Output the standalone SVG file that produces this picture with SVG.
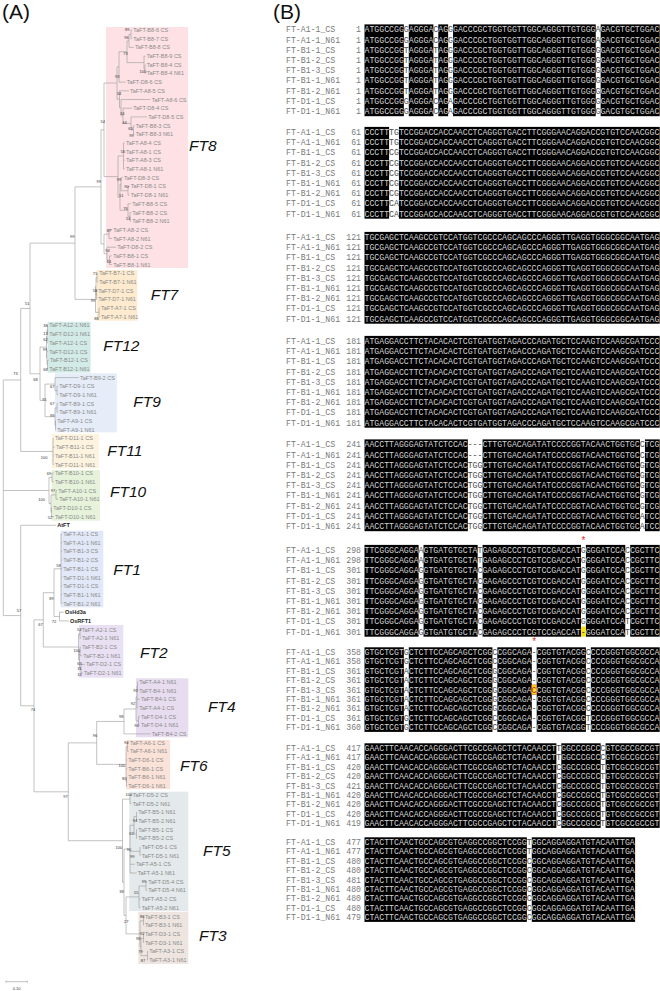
<svg xmlns="http://www.w3.org/2000/svg" width="660" height="991" viewBox="0 0 660 991">
<style>
.pl{font-family:"Liberation Sans",Arial,sans-serif;font-size:21px;fill:#111}
.lf{font-family:"Liberation Sans",Arial,sans-serif;font-size:5.5px;fill:#8a8a8a}
.ex{font-family:"Liberation Sans",Arial,sans-serif;font-size:5.5px;fill:#1a1a1a;font-weight:bold}
.bs{font-family:"Liberation Sans",Arial,sans-serif;font-size:4px;fill:#333}
.cl{font-family:"Liberation Sans",Arial,sans-serif;font-size:15.5px;font-style:italic;fill:#111}
.tr{fill:none;stroke:#9a9a9a;stroke-width:0.6}
.nm{font-family:"Liberation Mono","Courier New",monospace;font-size:8.2px;fill:#7a7a7a}
.q{font-family:"Liberation Mono","Courier New",monospace;font-size:8.2px;fill:#d4d4d4}
.w{fill:#4a4a4a}
.r{fill:#e02020}
.bk{fill:#000}
.yl{fill:#f5e21a}
.st{font-family:"Liberation Sans",Arial,sans-serif;font-size:10px;fill:#e8302c;text-anchor:middle}
</style>
<text class="pl" x="2" y="18.5">(A)</text>
<text class="pl" x="273" y="18.5">(B)</text>

<g id="boxes">
<rect x="106" y="27" width="82" height="241" fill="#fde1e4"/>
<rect x="96.7" y="270" width="40.6" height="50.7" fill="#fdeacf"/>
<rect x="47.7" y="321.7" width="43" height="51" fill="#d3ebe6"/>
<rect x="55" y="373.3" width="61.7" height="59" fill="#e6ecf8"/>
<rect x="51.7" y="434" width="47.3" height="34.3" fill="#fdf3df"/>
<rect x="51.7" y="470" width="48.3" height="50.7" fill="#e6f2da"/>
<rect x="60.7" y="530.7" width="42.6" height="76.6" fill="#e2e8f7"/>
<rect x="79" y="625" width="44.3" height="52.7" fill="#e9e1f3"/>
<rect x="136" y="678.3" width="52.3" height="59" fill="#e8ddf0"/>
<rect x="126" y="740" width="44" height="49.3" fill="#fbe2d8"/>
<rect x="129.3" y="791.7" width="59" height="119.3" fill="#e4e9eb"/>
<rect x="138.3" y="911.7" width="50" height="52.3" fill="#eee5e1"/>
</g>

<g id="connectors" class="tr">
<path d="M132.1 30H131V38.7H132.1M131 34.35H129V47.4H133.8M145.5 64.8H145V73.4H145.5M145.5 56.1H144V69.1H145M129 40.9H127V62.6H144M127 51.75H119V82.1H125.5M134.5 125.6H133.5V134.3H134.5M147.1 116.9H131V129.95H133.5M132.1 108.2H123V123.4H131M150.5 99.5H121V115.8H123M128.8 90.8H119.5V107.65H121M119 66.9H117V99.2H119.5M123.5 143V169M123.5 143H124.8M123.5 151.6H124.8M123.5 160.3H124.8M123.5 169H124.8M129.5 186.4H128V195.1H129.5M122.8 177.7H121V190.75H128M131.1 212.5H130V221.2H131.1M131.1 203.8H128V216.85H130M121 184.2H120V210.3H128M123.5 156H118V197.25H120M117 83.05H104V176.6H118M112.1 229.8H109V238.5H112.1M112.1 255.9H109.5V264.6H112.1M116.1 247.2H107V260.25H109.5M109 234.15H104V253.7H107M104 129.8H101V243.9H104"/>
<path d="M98.1 273.3H97V282H98.1M97.1 290.7H96.5V299.4H97.1M99.8 308.1H99V316.7H99.8M97 277.65H96V295.05H96.5M96 286.35H95.5V312.4H99M101 186.85H75V299.4H95.5"/>
<path d="M48.1 325.4H47.5V334.1H48.1M47.5 329.75H47V342.8H48.1M48.8 360.2H47.5V368.9H48.1M48.1 351.5H47V364.55H47.5M47 336.3H46.5V358H47"/>
<path d="M58.1 386.3H57V394.9H58.1M78.8 377.6H55V390.6H57M58.1 403.6H57V412.3H58.1M56.1 421H55.5V429.7H56.1M57 407.95H55V425.35H55.5M55 384.1H45V416.65H55M46.5 347.15H40V400.4H45M75 243.1H30V373.8H40"/>
<path d="M53 438.4V464.5M53 438.4H53.8M53 447.1H54.8M53 455.8H53.8M53 464.5H53.8M30 308.45H20.7V451.45H53"/>
<path d="M53.8 473.1H52V481.8H53.8M57.1 490.5H56V499.2H58.1M52.1 507.9H51.5V516.6H53.8M56 494.85H51V512.25H51.5M52 477.45H49V503.55H51"/>
<path d="M61 534V603.6M61 534H62.1M61 542.7H62.1M61 551.4H62.1M61 560.1H62.1M61 568.8H62.1M61 577.5H62.1M61 586.2H62.1M61 594.9H62.1M61 603.6H62.1M63.8 612.2H59.5V620.9H68.8M61 568.8H54V616.55H59.5"/>
<path d="M80.5 629.6H80V638.3H80.8M80.8 647H80V655.7H82.1M84.8 664.4H81V673.1H82.8M80 651.35H79.5V668.75H81M80 633.95H78.5V660.05H79.5M54 592.7H43.3V647H78.5"/>
<path d="M138.1 681.8H137.5V690.5H138.1M137.5 686.15H137V707.9H138.1M137 699.2H139.8M139.8 716.6H138.5V725.3H139.8M137 697H136V720.95H138.5M136 708.98H124V733.9H150.5"/>
<path d="M128.8 742.6H127.5V751.3H128.8M127.1 777.4H126.5V786.1H127.1M127.5 746.95H126V781.75H126.5M126 760H127.1M126 768.7H127.1M124 721.45H96.7V764.35H126"/>
<path d="M131.5 794.8H130V803.5H131.5M137.1 812.2H136.5V820.9H137.1M137.1 829.6H136.5V838.3H137.1M136.5 816.55H134V833.95H136.5M140.5 847H140V855.6H140.5M134 825.25H130V873H136.5M130 851.3H140M130 864.3H134.8M147.1 881.7H146V890.4H147.1M146 886.05H139V907.8H140.5M139 899.1H140.5"/>
<path d="M143.8 916.5H143.5V925.2H143.8M143.8 933.9H143.5V942.6H143.8M148.1 951.3H147.5V960H148.1M143.5 938.25H141V955.65H147.5M143.5 920.85H140V946.95H141M139 896.9H126V933.9H140M130 849.1H124V915.4H126M130 799.15H122.5V882.25H124"/>
<path d="M96.7 742.9H68.3V840.7H122.5M43.3 619.85H34V791.8H68.3M56.1 525.3H20.7V705.83H34M20.7 379.95H3.3V615.57H20.7M3.3 490.5H49"/>
<path d="M6 981.7H27.3M6 980.6V982.8M27.3 980.6V982.8"/>
</g>

<g id="clade-FT8" class="lf">
<text x="133.3" y="32">TaFT-B8-6 CS</text><text x="133.3" y="40.7">TaFT-B8-7 CS</text><text x="135" y="49.4">TaFT-B8-8 CS</text><text x="146.7" y="58.1">TaFT-B8-9 CS</text><text x="146.7" y="66.8">TaFT-B8-4 CS</text><text x="146.7" y="75.4">TaFT-B8-4 N61</text><text x="126.7" y="84.1">TaFT-D8-6 CS</text><text x="130" y="92.8">TaFT-A8-5 CS</text><text x="151.7" y="101.5">TaFT-A8-6 CS</text><text x="133.3" y="110.2">TaFT-D8-4 CS</text><text x="148.3" y="118.9">TaFT-D8-5 CS</text><text x="135.7" y="127.6">TaFT-B8-3 CS</text><text x="135.7" y="136.3">TaFT-B8-3 N61</text><text x="126" y="145">TaFT-A8-4 CS</text><text x="126" y="153.6">TaFT-A8-1 CS</text><text x="126" y="162.3">TaFT-A8-3 CS</text><text x="126" y="171">TaFT-A8-1 N61</text><text x="124" y="179.7">TaFT-D8-3 CS</text><text x="130.7" y="188.4">TaFT-D8-1 CS</text><text x="130.7" y="197.1">TaFT-D8-1 N61</text><text x="132.3" y="205.8">TaFT-B8-5 CS</text><text x="132.3" y="214.5">TaFT-B8-2 CS</text><text x="132.3" y="223.2">TaFT-B8-2 N61</text><text x="113.3" y="231.8">TaFT-A8-2 CS</text><text x="113.3" y="240.5">TaFT-A8-2 N61</text><text x="117.3" y="249.2">TaFT-D8-2 CS</text><text x="113.3" y="257.9">TaFT-B8-1 CS</text><text x="113.3" y="266.6">TaFT-B8-1 N61</text>
<text class="cl" x="189" y="150.6">FT8</text>
</g>
<g id="clade-FT7" class="lf">
<text x="99.3" y="275.3">TaFT-B7-1 CS</text><text x="99.3" y="284">TaFT-B7-1 N61</text><text x="98.3" y="292.7">TaFT-D7-1 CS</text><text x="98.3" y="301.4">TaFT-D7-1 N61</text><text x="101" y="310.1">TaFT-A7-1 CS</text><text x="101" y="318.7">TaFT-A7-1 N61</text>
<text class="cl" x="150.7" y="299.6">FT7</text>
</g>
<g id="clade-FT12" class="lf">
<text x="49.3" y="327.4">TaFT-A12-1 N61</text><text x="49.3" y="336.1">TaFT-D12-1 N61</text><text x="49.3" y="344.8">TaFT-A12-1 CS</text><text x="49.3" y="353.5">TaFT-D12-1 CS</text><text x="50" y="362.2">TaFT-B12-1 CS</text><text x="49.3" y="370.9">TaFT-B12-1 N61</text>
<text class="cl" x="103.3" y="350.6">FT12</text>
</g>
<g id="clade-FT9" class="lf">
<text x="80" y="379.6">TaFT-B9-2 CS</text><text x="59.3" y="388.3">TaFT-D9-1 CS</text><text x="59.3" y="396.9">TaFT-D9-1 N61</text><text x="59.3" y="405.6">TaFT-B9-1 CS</text><text x="59.3" y="414.3">TaFT-B9-1 N61</text><text x="57.3" y="423">TaFT-A9-1 CS</text><text x="57.3" y="431.7">TaFT-A9-1 N61</text>
<text class="cl" x="133.3" y="407.2">FT9</text>
</g>
<g id="clade-FT11" class="lf">
<text x="55" y="440.4">TaFT-D11-1 CS</text><text x="56" y="449.1">TaFT-B11-1 CS</text><text x="55" y="457.8">TaFT-B11-1 N61</text><text x="55" y="466.5">TaFT-D11-1 N61</text>
<text class="cl" x="107.3" y="455.6">FT11</text>
</g>
<g id="clade-FT10" class="lf">
<text x="55" y="475.1">TaFT-B10-1 CS</text><text x="55" y="483.8">TaFT-B10-1 N61</text><text x="58.3" y="492.5">TaFT-A10-1 CS</text><text x="59.3" y="501.2">TaFT-A10-1 N61</text><text x="53.3" y="509.9">TaFT-D10-1 CS</text><text x="55" y="518.6">TaFT-D10-1 N61</text>
<text class="cl" x="110" y="496.8">FT10</text>
</g>
<g id="leaf-AtFT"><text class="ex" x="57.3" y="527.3">AtFT</text></g>
<g id="clade-FT1" class="lf">
<text x="63.3" y="536">TaFT-A1-1 CS</text><text x="63.3" y="544.7">TaFT-A1-1 N61</text><text x="63.3" y="553.4">TaFT-B1-3 CS</text><text x="63.3" y="562.1">TaFT-B1-2 CS</text><text x="63.3" y="570.8">TaFT-B1-1 CS</text><text x="63.3" y="579.5">TaFT-D1-1 N61</text><text x="63.3" y="588.2">TaFT-D1-1 CS</text><text x="63.3" y="596.9">TaFT-B1-1 N61</text><text x="63.3" y="605.6">TaFT-B1-2 N61</text>
<text class="cl" x="113.3" y="574.9">FT1</text>
</g>
<g id="leaf-OsHd3a"><text class="ex" x="65" y="614.2">OsHd3a</text></g>
<g id="leaf-OsRFT1"><text class="ex" x="70" y="622.9">OsRFT1</text></g>
<g id="clade-FT2" class="lf">
<text x="81.7" y="631.6">TaFT-A2-1 CS</text><text x="82" y="640.3">TaFT-A2-1 N61</text><text x="82" y="649">TaFT-B2-1 CS</text><text x="83.3" y="657.7">TaFT-B2-1 N61</text><text x="86" y="666.4">TaFT-D2-1 CS</text><text x="84" y="675.1">TaFT-D2-1 N61</text>
<text class="cl" x="140" y="657.6">FT2</text>
</g>
<g id="clade-FT4" class="lf">
<text x="139.3" y="683.8">TaFT-A4-1 N61</text><text x="139.3" y="692.5">TaFT-B4-1 N61</text><text x="141" y="701.2">TaFT-B4-1 CS</text><text x="139.3" y="709.9">TaFT-A4-1 CS</text><text x="141" y="718.6">TaFT-D4-1 CS</text><text x="141" y="727.3">TaFT-D4-1 N61</text><text x="151.7" y="735.9">TaFT-B4-2 CS</text>
<text class="cl" x="208" y="712.2">FT4</text>
</g>
<g id="clade-FT6" class="lf">
<text x="130" y="744.6">TaFT-A6-1 CS</text><text x="130" y="753.3">TaFT-A6-1 N61</text><text x="128.3" y="762">TaFT-D6-1 CS</text><text x="128.3" y="770.7">TaFT-B6-1 CS</text><text x="128.3" y="779.4">TaFT-B6-1 N61</text><text x="128.3" y="788.1">TaFT-D6-1 N61</text>
<text class="cl" x="180" y="770.6">FT6</text>
</g>
<g id="clade-FT5" class="lf">
<text x="132.7" y="796.8">TaFT-D5-2 CS</text><text x="132.7" y="805.5">TaFT-D5-2 N61</text><text x="138.3" y="814.2">TaFT-B5-1 N61</text><text x="138.3" y="822.9">TaFT-B5-2 N61</text><text x="138.3" y="831.6">TaFT-B5-1 CS</text><text x="138.3" y="840.3">TaFT-B5-2 CS</text><text x="141.7" y="849">TaFT-D5-1 CS</text><text x="141.7" y="857.6">TaFT-D5-1 N61</text><text x="136" y="866.3">TaFT-A5-1 CS</text><text x="137.7" y="875">TaFT-A5-1 N61</text><text x="148.3" y="883.7">TaFT-D5-4 CS</text><text x="148.3" y="892.4">TaFT-D5-4 N61</text><text x="141.7" y="901.1">TaFT-A5-2 CS</text><text x="141.7" y="909.8">TaFT-A5-2 N61</text>
<text class="cl" x="203" y="855.6">FT5</text>
</g>
<g id="clade-FT3" class="lf">
<text x="145" y="918.5">TaFT-B3-1 CS</text><text x="145" y="927.2">TaFT-B3-1 N61</text><text x="145" y="935.9">TaFT-D3-1 CS</text><text x="145" y="944.6">TaFT-D3-1 N61</text><text x="149.3" y="953.3">TaFT-A3-1 CS</text><text x="149.3" y="962">TaFT-A3-1 N61</text>
<text class="cl" x="199" y="940.6">FT3</text>
</g>

<g id="bootstrap" class="bs">
<text x="125" y="30.7">89</text><text x="124.3" y="39.1">96</text><text x="123.3" y="55.4">73</text><text x="139.5" y="73.1">100</text><text x="115" y="78.1">93</text><text x="116.7" y="94.7">34</text><text x="120" y="115.4">34</text><text x="122.3" y="123.7">44</text><text x="128.3" y="130.4">63</text><text x="129.3" y="137.4">99</text><text x="120.7" y="153.4">55</text><text x="116.7" y="180.7">99</text><text x="124.3" y="187.7">90</text><text x="119" y="197.1">51</text><text x="123.3" y="209.7">76</text><text x="126" y="220.1">54</text><text x="106.7" y="231.7">87</text><text x="105.3" y="252.4">94</text><text x="106.7" y="263.1">64</text><text x="100.5" y="123.1">54</text><text x="96.5" y="183.1">99</text><text x="70" y="238.1">99</text><text x="25" y="304.7">51</text>
<text x="92.7" y="275.4">71</text><text x="92.7" y="292.4">58</text><text x="90.7" y="302.4">99</text><text x="94.3" y="319.7">88</text>
<text x="43.3" y="326.7">38</text><text x="43.3" y="334.7">13</text><text x="43.3" y="341.4">62</text><text x="42.7" y="351.4">99</text><text x="43.3" y="370.7">68</text><text x="33.3" y="380.7">68</text><text x="13.3" y="375.4">73</text>
<text x="50" y="388.1">67</text><text x="42.3" y="401.4">91</text><text x="50" y="405.4">67</text><text x="50" y="417.4">99</text>
<text x="40.7" y="458.7">100</text>
<text x="46.7" y="474.7">69</text><text x="50.7" y="492.4">97</text><text x="38.3" y="501.4">100</text><text x="47.7" y="518.7">52</text>
<text x="56.2" y="567.1">58</text><text x="49.3" y="600.4">89</text><text x="51.7" y="623.1">72</text><text x="38.3" y="626.4">67</text><text x="16.7" y="612.1">57</text>
<text x="77" y="631.4">53</text><text x="73.5" y="652.4">100</text><text x="77.3" y="665.4">63</text><text x="77.3" y="669.7">11</text><text x="77.3" y="675.7">16</text>
<text x="30.7" y="711.4">74</text>
<text x="133.3" y="692.1">95</text><text x="130.7" y="704.7">92</text><text x="119" y="718.1">98</text><text x="134.3" y="727.4">96</text><text x="92.7" y="737.4">96</text>
<text x="124" y="744.1">94</text><text x="118.5" y="767.1">100</text><text x="122" y="779.7">80</text>
<text x="63.3" y="798.1">97</text>
<text x="125.5" y="796.4">100</text><text x="132.7" y="822.1">94</text><text x="129.3" y="834.7">63</text><text x="126.7" y="851.4">90</text><text x="115.5" y="849.1">100</text><text x="130" y="858.1">99</text><text x="141.7" y="883.1">99</text><text x="119.3" y="893.1">38</text><text x="134" y="894.1">55</text>
<text x="140" y="918.1">86</text><text x="124" y="923.1">27</text><text x="140" y="934.7">92</text><text x="136" y="939.7">98</text><text x="138.3" y="953.1">79</text><text x="140.7" y="962.1">87</text>
<text x="16.6" y="989.5" text-anchor="middle">0.10</text>
</g>

<g id="block1" transform="translate(0,29.5)">
<rect class="bk" x="364.5" y="-5.1" width="39.36" height="91.8"/><rect class="bk" x="408.78" y="-5.1" width="24.6" height="91.8"/><rect class="bk" x="438.3" y="-5.1" width="9.84" height="91.8"/><rect class="bk" x="453.06" y="-5.1" width="142.68" height="91.8"/><rect class="bk" x="600.66" y="-5.1" width="59.04" height="91.8"/>
<text class="nm" x="286" y="2.9">FT-A1-1_CS</text><text class="nm" x="361" y="2.9" text-anchor="end">1</text><text class="q" x="364.5" y="2.9">ATGGCCGG<tspan class="w">G</tspan>AGGGA<tspan class="w">C</tspan>AG<tspan class="w">G</tspan>GACCCGCTGGTGGTTGGCAGGGTTGTGGG<tspan class="w">A</tspan>GACGTGCTGGAC</text>
<text class="nm" x="286" y="13.1">FT-A1-1_N61</text><text class="nm" x="361" y="13.1" text-anchor="end">1</text><text class="q" x="364.5" y="13.1">ATGGCCGG<tspan class="w">G</tspan>AGGGA<tspan class="w">C</tspan>AG<tspan class="w">G</tspan>GACCCGCTGGTGGTTGGCAGGGTTGTGGG<tspan class="w">A</tspan>GACGTGCTGGAC</text>
<text class="nm" x="286" y="23.3">FT-B1-1_CS</text><text class="nm" x="361" y="23.3" text-anchor="end">1</text><text class="q" x="364.5" y="23.3">ATGGCCGG<tspan class="w">T</tspan>AGGGA<tspan class="w">T</tspan>AG<tspan class="w">G</tspan>GACCCGCTGGTGGTTGGCAGGGTTGTGGG<tspan class="w">G</tspan>GACGTGCTGGAC</text>
<text class="nm" x="286" y="33.5">FT-B1-2_CS</text><text class="nm" x="361" y="33.5" text-anchor="end">1</text><text class="q" x="364.5" y="33.5">ATGGCCGG<tspan class="w">T</tspan>AGGGA<tspan class="w">T</tspan>AG<tspan class="w">G</tspan>GACCCGCTGGTGGTTGGCAGGGTTGTGGG<tspan class="w">G</tspan>GACGTGCTGGAC</text>
<text class="nm" x="286" y="43.7">FT-B1-3_CS</text><text class="nm" x="361" y="43.7" text-anchor="end">1</text><text class="q" x="364.5" y="43.7">ATGGCCGG<tspan class="w">T</tspan>AGGGA<tspan class="w">T</tspan>AG<tspan class="w">G</tspan>GACCCGCTGGTGGTTGGCAGGGTTGTGGG<tspan class="w">G</tspan>GACGTGCTGGAC</text>
<text class="nm" x="286" y="53.9">FT-B1-1_N61</text><text class="nm" x="361" y="53.9" text-anchor="end">1</text><text class="q" x="364.5" y="53.9">ATGGCCGG<tspan class="w">T</tspan>AGGGA<tspan class="w">T</tspan>AG<tspan class="w">G</tspan>GACCCGCTGGTGGTTGGCAGGGTTGTGGG<tspan class="w">G</tspan>GACGTGCTGGAC</text>
<text class="nm" x="286" y="64.1">FT-B1-2_N61</text><text class="nm" x="361" y="64.1" text-anchor="end">1</text><text class="q" x="364.5" y="64.1">ATGGCCGG<tspan class="w">T</tspan>AGGGA<tspan class="w">T</tspan>AG<tspan class="w">G</tspan>GACCCGCTGGTGGTTGGCAGGGTTGTGGG<tspan class="w">G</tspan>GACGTGCTGGAC</text>
<text class="nm" x="286" y="74.3">FT-D1-1_CS</text><text class="nm" x="361" y="74.3" text-anchor="end">1</text><text class="q" x="364.5" y="74.3">ATGGCCGG<tspan class="w">G</tspan>AGGGA<tspan class="w">C</tspan>AG<tspan class="w">A</tspan>GACCCGCTGGTGGTTGGCAGGGTTGTGGG<tspan class="w">G</tspan>GACGTGCTGGAC</text>
<text class="nm" x="286" y="84.5">FT-D1-1_N61</text><text class="nm" x="361" y="84.5" text-anchor="end">1</text><text class="q" x="364.5" y="84.5">ATGGCCGG<tspan class="w">G</tspan>AGGGA<tspan class="w">C</tspan>AG<tspan class="w">A</tspan>GACCCGCTGGTGGTTGGCAGGGTTGTGGG<tspan class="w">G</tspan>GACGTGCTGGAC</text>
</g>

<g id="block2" transform="translate(0,132)">
<rect class="bk" x="364.5" y="-5.1" width="24.6" height="91.8"/><rect class="bk" x="398.94" y="-5.1" width="260.76" height="91.8"/>
<text class="nm" x="286" y="2.9">FT-A1-1_CS</text><text class="nm" x="361" y="2.9" text-anchor="end">61</text><text class="q" x="364.5" y="2.9">CCCTT<tspan class="w">TG</tspan>TCCGGACCACCAACCTCAGGGTGACCTTCGGGAACAGGACCGTGTCCAACGGC</text>
<text class="nm" x="286" y="13.1">FT-A1-1_N61</text><text class="nm" x="361" y="13.1" text-anchor="end">61</text><text class="q" x="364.5" y="13.1">CCCTT<tspan class="w">TG</tspan>TCCGGACCACCAACCTCAGGGTGACCTTCGGGAACAGGACCGTGTCCAACGGC</text>
<text class="nm" x="286" y="23.3">FT-B1-1_CS</text><text class="nm" x="361" y="23.3" text-anchor="end">61</text><text class="q" x="364.5" y="23.3">CCCTT<tspan class="w">CG</tspan>TCCGGACCACCAACCTCAGGGTGACCTTCGGGAACAGGACCGTGTCCAACGGC</text>
<text class="nm" x="286" y="33.5">FT-B1-2_CS</text><text class="nm" x="361" y="33.5" text-anchor="end">61</text><text class="q" x="364.5" y="33.5">CCCTT<tspan class="w">CG</tspan>TCCGGACCACCAACCTCAGGGTGACCTTCGGGAACAGGACCGTGTCCAACGGC</text>
<text class="nm" x="286" y="43.7">FT-B1-3_CS</text><text class="nm" x="361" y="43.7" text-anchor="end">61</text><text class="q" x="364.5" y="43.7">CCCTT<tspan class="w">CG</tspan>TCCGGACCACCAACCTCAGGGTGACCTTCGGGAACAGGACCGTGTCCAACGGC</text>
<text class="nm" x="286" y="53.9">FT-B1-1_N61</text><text class="nm" x="361" y="53.9" text-anchor="end">61</text><text class="q" x="364.5" y="53.9">CCCTT<tspan class="w">CG</tspan>TCCGGACCACCAACCTCAGGGTGACCTTCGGGAACAGGACCGTGTCCAACGGC</text>
<text class="nm" x="286" y="64.1">FT-B1-2_N61</text><text class="nm" x="361" y="64.1" text-anchor="end">61</text><text class="q" x="364.5" y="64.1">CCCTT<tspan class="w">CG</tspan>TCCGGACCACCAACCTCAGGGTGACCTTCGGGAACAGGACCGTGTCCAACGGC</text>
<text class="nm" x="286" y="74.3">FT-D1-1_CS</text><text class="nm" x="361" y="74.3" text-anchor="end">61</text><text class="q" x="364.5" y="74.3">CCCTT<tspan class="w">CA</tspan>TCCGGACCACCAACCTCAGGGTGACCTTCGGGAACAGGACCGTGTCCAACGGC</text>
<text class="nm" x="286" y="84.5">FT-D1-1_N61</text><text class="nm" x="361" y="84.5" text-anchor="end">61</text><text class="q" x="364.5" y="84.5">CCCTT<tspan class="w">CA</tspan>TCCGGACCACCAACCTCAGGGTGACCTTCGGGAACAGGACCGTGTCCAACGGC</text>
</g>

<g id="block3" transform="translate(0,237)">
<rect class="bk" x="364.5" y="-5.1" width="295.2" height="91.8"/>
<text class="nm" x="286" y="2.9">FT-A1-1_CS</text><text class="nm" x="361" y="2.9" text-anchor="end">121</text><text class="q" x="364.5" y="2.9">TGCGAGCTCAAGCCGTCCATGGTCGCCCAGCAGCCCAGGGTTGAGGTGGGCGGCAATGAG</text>
<text class="nm" x="286" y="13.1">FT-A1-1_N61</text><text class="nm" x="361" y="13.1" text-anchor="end">121</text><text class="q" x="364.5" y="13.1">TGCGAGCTCAAGCCGTCCATGGTCGCCCAGCAGCCCAGGGTTGAGGTGGGCGGCAATGAG</text>
<text class="nm" x="286" y="23.3">FT-B1-1_CS</text><text class="nm" x="361" y="23.3" text-anchor="end">121</text><text class="q" x="364.5" y="23.3">TGCGAGCTCAAGCCGTCCATGGTCGCCCAGCAGCCCAGGGTTGAGGTGGGCGGCAATGAG</text>
<text class="nm" x="286" y="33.5">FT-B1-2_CS</text><text class="nm" x="361" y="33.5" text-anchor="end">121</text><text class="q" x="364.5" y="33.5">TGCGAGCTCAAGCCGTCCATGGTCGCCCAGCAGCCCAGGGTTGAGGTGGGCGGCAATGAG</text>
<text class="nm" x="286" y="43.7">FT-B1-3_CS</text><text class="nm" x="361" y="43.7" text-anchor="end">121</text><text class="q" x="364.5" y="43.7">TGCGAGCTCAAGCCGTCCATGGTCGCCCAGCAGCCCAGGGTTGAGGTGGGCGGCAATGAG</text>
<text class="nm" x="286" y="53.9">FT-B1-1_N61</text><text class="nm" x="361" y="53.9" text-anchor="end">121</text><text class="q" x="364.5" y="53.9">TGCGAGCTCAAGCCGTCCATGGTCGCCCAGCAGCCCAGGGTTGAGGTGGGCGGCAATGAG</text>
<text class="nm" x="286" y="64.1">FT-B1-2_N61</text><text class="nm" x="361" y="64.1" text-anchor="end">121</text><text class="q" x="364.5" y="64.1">TGCGAGCTCAAGCCGTCCATGGTCGCCCAGCAGCCCAGGGTTGAGGTGGGCGGCAATGAG</text>
<text class="nm" x="286" y="74.3">FT-D1-1_CS</text><text class="nm" x="361" y="74.3" text-anchor="end">121</text><text class="q" x="364.5" y="74.3">TGCGAGCTCAAGCCGTCCATGGTCGCCCAGCAGCCCAGGGTTGAGGTGGGCGGCAATGAG</text>
<text class="nm" x="286" y="84.5">FT-D1-1_N61</text><text class="nm" x="361" y="84.5" text-anchor="end">121</text><text class="q" x="364.5" y="84.5">TGCGAGCTCAAGCCGTCCATGGTCGCCCAGCAGCCCAGGGTTGAGGTGGGCGGCAATGAG</text>
</g>

<g id="block4" transform="translate(0,341)">
<rect class="bk" x="364.5" y="-5.1" width="295.2" height="91.8"/>
<text class="nm" x="286" y="2.9">FT-A1-1_CS</text><text class="nm" x="361" y="2.9" text-anchor="end">181</text><text class="q" x="364.5" y="2.9">ATGAGGACCTTCTACACACTCGTGATGGTAGACCCAGATGCTCCAAGTCCAAGCGATCCC</text>
<text class="nm" x="286" y="13.1">FT-A1-1_N61</text><text class="nm" x="361" y="13.1" text-anchor="end">181</text><text class="q" x="364.5" y="13.1">ATGAGGACCTTCTACACACTCGTGATGGTAGACCCAGATGCTCCAAGTCCAAGCGATCCC</text>
<text class="nm" x="286" y="23.3">FT-B1-1_CS</text><text class="nm" x="361" y="23.3" text-anchor="end">181</text><text class="q" x="364.5" y="23.3">ATGAGGACCTTCTACACACTCGTGATGGTAGACCCAGATGCTCCAAGTCCAAGCGATCCC</text>
<text class="nm" x="286" y="33.5">FT-B1-2_CS</text><text class="nm" x="361" y="33.5" text-anchor="end">181</text><text class="q" x="364.5" y="33.5">ATGAGGACCTTCTACACACTCGTGATGGTAGACCCAGATGCTCCAAGTCCAAGCGATCCC</text>
<text class="nm" x="286" y="43.7">FT-B1-3_CS</text><text class="nm" x="361" y="43.7" text-anchor="end">181</text><text class="q" x="364.5" y="43.7">ATGAGGACCTTCTACACACTCGTGATGGTAGACCCAGATGCTCCAAGTCCAAGCGATCCC</text>
<text class="nm" x="286" y="53.9">FT-B1-1_N61</text><text class="nm" x="361" y="53.9" text-anchor="end">181</text><text class="q" x="364.5" y="53.9">ATGAGGACCTTCTACACACTCGTGATGGTAGACCCAGATGCTCCAAGTCCAAGCGATCCC</text>
<text class="nm" x="286" y="64.1">FT-B1-2_N61</text><text class="nm" x="361" y="64.1" text-anchor="end">181</text><text class="q" x="364.5" y="64.1">ATGAGGACCTTCTACACACTCGTGATGGTAGACCCAGATGCTCCAAGTCCAAGCGATCCC</text>
<text class="nm" x="286" y="74.3">FT-D1-1_CS</text><text class="nm" x="361" y="74.3" text-anchor="end">181</text><text class="q" x="364.5" y="74.3">ATGAGGACCTTCTACACACTCGTGATGGTAGACCCAGATGCTCCAAGTCCAAGCGATCCC</text>
<text class="nm" x="286" y="84.5">FT-D1-1_N61</text><text class="nm" x="361" y="84.5" text-anchor="end">181</text><text class="q" x="364.5" y="84.5">ATGAGGACCTTCTACACACTCGTGATGGTAGACCCAGATGCTCCAAGTCCAAGCGATCCC</text>
</g>

<g id="block5" transform="translate(0,444.5)">
<rect class="bk" x="364.5" y="-5.1" width="103.32" height="91.8"/><rect class="bk" x="482.58" y="-5.1" width="157.44" height="91.8"/><rect class="bk" x="644.94" y="-5.1" width="14.76" height="91.8"/>
<text class="nm" x="286" y="2.9">FT-A1-1_CS</text><text class="nm" x="361" y="2.9" text-anchor="end">241</text><text class="q" x="364.5" y="2.9">AACCTTAGGGAGTATCTCCAC<tspan class="w">---</tspan>CTTGTGACAGATATCCCCGGTACAACTGGTGC<tspan class="w">C</tspan>TCG</text>
<text class="nm" x="286" y="13.1">FT-A1-1_N61</text><text class="nm" x="361" y="13.1" text-anchor="end">241</text><text class="q" x="364.5" y="13.1">AACCTTAGGGAGTATCTCCAC<tspan class="w">---</tspan>CTTGTGACAGATATCCCCGGTACAACTGGTGC<tspan class="w">C</tspan>TCG</text>
<text class="nm" x="286" y="23.3">FT-B1-1_CS</text><text class="nm" x="361" y="23.3" text-anchor="end">241</text><text class="q" x="364.5" y="23.3">AACCTTAGGGAGTATCTCCAC<tspan class="w">TGG</tspan>CTTGTGACAGATATCCCCGGTACAACTGGTGC<tspan class="w">G</tspan>TCG</text>
<text class="nm" x="286" y="33.5">FT-B1-2_CS</text><text class="nm" x="361" y="33.5" text-anchor="end">241</text><text class="q" x="364.5" y="33.5">AACCTTAGGGAGTATCTCCAC<tspan class="w">TGG</tspan>CTTGTGACAGATATCCCCGGTACAACTGGTGC<tspan class="w">G</tspan>TCG</text>
<text class="nm" x="286" y="43.7">FT-B1-3_CS</text><text class="nm" x="361" y="43.7" text-anchor="end">241</text><text class="q" x="364.5" y="43.7">AACCTTAGGGAGTATCTCCAC<tspan class="w">TGG</tspan>CTTGTGACAGATATCCCCGGTACAACTGGTGC<tspan class="w">G</tspan>TCG</text>
<text class="nm" x="286" y="53.9">FT-B1-1_N61</text><text class="nm" x="361" y="53.9" text-anchor="end">241</text><text class="q" x="364.5" y="53.9">AACCTTAGGGAGTATCTCCAC<tspan class="w">TGG</tspan>CTTGTGACAGATATCCCCGGTACAACTGGTGC<tspan class="w">G</tspan>TCG</text>
<text class="nm" x="286" y="64.1">FT-B1-2_N61</text><text class="nm" x="361" y="64.1" text-anchor="end">241</text><text class="q" x="364.5" y="64.1">AACCTTAGGGAGTATCTCCAC<tspan class="w">TGG</tspan>CTTGTGACAGATATCCCCGGTACAACTGGTGC<tspan class="w">G</tspan>TCG</text>
<text class="nm" x="286" y="74.3">FT-D1-1_CS</text><text class="nm" x="361" y="74.3" text-anchor="end">241</text><text class="q" x="364.5" y="74.3">AACCTTAGGGAGTATCTCCAC<tspan class="w">TGG</tspan>CTTGTGACAGATATCCCCGGTACAACTGGTGC<tspan class="w">A</tspan>TCC</text>
<text class="nm" x="286" y="84.5">FT-D1-1_N61</text><text class="nm" x="361" y="84.5" text-anchor="end">241</text><text class="q" x="364.5" y="84.5">AACCTTAGGGAGTATCTCCAC<tspan class="w">TGG</tspan>CTTGTGACAGATATCCCCGGTACAACTGGTGC<tspan class="w">A</tspan>TCC</text>
</g>

<text class="st" x="583.44" y="543.5">*</text>
<g id="block6" transform="translate(0,550)">
<rect class="bk" x="364.5" y="-5.1" width="54.12" height="91.8"/><rect class="bk" x="423.54" y="-5.1" width="54.12" height="91.8"/><rect class="bk" x="482.58" y="-5.1" width="98.4" height="91.8"/><rect class="bk" x="585.9" y="-5.1" width="39.36" height="91.8"/><rect class="bk" x="630.18" y="-5.1" width="29.52" height="91.8"/>
<rect class="yl" x="580.98" y="76.5" width="4.92" height="10.2"/>
<text class="nm" x="286" y="2.9">FT-A1-1_CS</text><text class="nm" x="361" y="2.9" text-anchor="end">298</text><text class="q" x="364.5" y="2.9">TTCGGGCAGGA<tspan class="w">A</tspan>GTGATGTGCTA<tspan class="w">T</tspan>GAGAGCCCTCGTCCGACCAT<tspan class="w">G</tspan>GGGATCCA<tspan class="w">C</tspan>CGCTTC</text>
<text class="nm" x="286" y="13.1">FT-A1-1_N61</text><text class="nm" x="361" y="13.1" text-anchor="end">298</text><text class="q" x="364.5" y="13.1">TTCGGGCAGGA<tspan class="w">A</tspan>GTGATGTGCTA<tspan class="w">T</tspan>GAGAGCCCTCGTCCGACCAT<tspan class="w">G</tspan>GGGATCCA<tspan class="w">C</tspan>CGCTTC</text>
<text class="nm" x="286" y="23.3">FT-B1-1_CS</text><text class="nm" x="361" y="23.3" text-anchor="end">301</text><text class="q" x="364.5" y="23.3">TTCGGGCAGGA<tspan class="w">G</tspan>GTGATGTGCTA<tspan class="w">C</tspan>GAGAGCCCTCGTCCGACCAT<tspan class="w">G</tspan>GGGATCCA<tspan class="w">C</tspan>CGCTTC</text>
<text class="nm" x="286" y="33.5">FT-B1-2_CS</text><text class="nm" x="361" y="33.5" text-anchor="end">301</text><text class="q" x="364.5" y="33.5">TTCGGGCAGGA<tspan class="w">G</tspan>GTGATGTGCTA<tspan class="w">C</tspan>GAGAGCCCTCGTCCGACCAT<tspan class="w">G</tspan>GGGATCCA<tspan class="w">C</tspan>CGCTTC</text>
<text class="nm" x="286" y="43.7">FT-B1-3_CS</text><text class="nm" x="361" y="43.7" text-anchor="end">301</text><text class="q" x="364.5" y="43.7">TTCGGGCAGGA<tspan class="w">G</tspan>GTGATGTGCTA<tspan class="w">C</tspan>GAGAGCCCTCGTCCGACCAT<tspan class="w">G</tspan>GGGATCCA<tspan class="w">C</tspan>CGCTTC</text>
<text class="nm" x="286" y="53.9">FT-B1-1_N61</text><text class="nm" x="361" y="53.9" text-anchor="end">301</text><text class="q" x="364.5" y="53.9">TTCGGGCAGGA<tspan class="w">G</tspan>GTGATGTGCTA<tspan class="w">C</tspan>GAGAGCCCTCGTCCGACCAT<tspan class="w">G</tspan>GGGATCCA<tspan class="w">C</tspan>CGCTTC</text>
<text class="nm" x="286" y="64.1">FT-B1-2_N61</text><text class="nm" x="361" y="64.1" text-anchor="end">301</text><text class="q" x="364.5" y="64.1">TTCGGGCAGGA<tspan class="w">G</tspan>GTGATGTGCTA<tspan class="w">C</tspan>GAGAGCCCTCGTCCGACCAT<tspan class="w">G</tspan>GGGATCCA<tspan class="w">C</tspan>CGCTTC</text>
<text class="nm" x="286" y="74.3">FT-D1-1_CS</text><text class="nm" x="361" y="74.3" text-anchor="end">301</text><text class="q" x="364.5" y="74.3">TTCGGGCAGGA<tspan class="w">G</tspan>GTGATGTGCTA<tspan class="w">C</tspan>GAGAGCCCTCGTCCGACCAT<tspan class="w">G</tspan>GGGATCCA<tspan class="w">T</tspan>CGCTTC</text>
<text class="nm" x="286" y="84.5">FT-D1-1_N61</text><text class="nm" x="361" y="84.5" text-anchor="end">301</text><text class="q" x="364.5" y="84.5">TTCGGGCAGGA<tspan class="w">G</tspan>GTGATGTGCTA<tspan class="w">C</tspan>GAGAGCCCTCGTCCGACCAT<tspan class="w">-</tspan>GGGATCCA<tspan class="w">T</tspan>CGCTTC</text>
</g>

<text class="st" x="534.24" y="645.4">*</text>
<g id="block7" transform="translate(0,652)">
<rect class="bk" x="364.5" y="-4.7" width="39.36" height="84.6"/><rect class="bk" x="408.78" y="-4.7" width="83.64" height="84.6"/><rect class="bk" x="497.34" y="-4.7" width="34.44" height="84.6"/><rect class="bk" x="536.7" y="-4.7" width="49.2" height="84.6"/><rect class="bk" x="590.82" y="-4.7" width="68.88" height="84.6"/>
<rect class="yl" x="531.78" y="32.9" width="4.92" height="9.4" stroke="#e8502c" stroke-width="0.6"/>
<text class="nm" x="286" y="2.9">FT-A1-1_CS</text><text class="nm" x="361" y="2.9" text-anchor="end">358</text><text class="q" x="364.5" y="2.9">GTGCTCGT<tspan class="w">G</tspan>CTCTTCCAGCAGCTCGG<tspan class="w">C</tspan>CGGCAGA<tspan class="w">-</tspan>CGGTGTACGG<tspan class="w">C</tspan>CCCGGGTGGCGCCA</text>
<text class="nm" x="286" y="12.3">FT-A1-1_N61</text><text class="nm" x="361" y="12.3" text-anchor="end">358</text><text class="q" x="364.5" y="12.3">GTGCTCGT<tspan class="w">G</tspan>CTCTTCCAGCAGCTCGG<tspan class="w">C</tspan>CGGCAGA<tspan class="w">-</tspan>CGGTGTACGG<tspan class="w">C</tspan>CCCGGGTGGCGCCA</text>
<text class="nm" x="286" y="21.7">FT-B1-1_CS</text><text class="nm" x="361" y="21.7" text-anchor="end">361</text><text class="q" x="364.5" y="21.7">GTGCTCGT<tspan class="w">A</tspan>CTCTTCCAGCAGCTCGG<tspan class="w">G</tspan>CGGCAGA<tspan class="w">-</tspan>CGGTGTACGG<tspan class="w">C</tspan>CCCGGGTGGCGCCA</text>
<text class="nm" x="286" y="31.1">FT-B1-2_CS</text><text class="nm" x="361" y="31.1" text-anchor="end">361</text><text class="q" x="364.5" y="31.1">GTGCTCGT<tspan class="w">A</tspan>CTCTTCCAGCAGCTCGG<tspan class="w">G</tspan>CGGCAGA<tspan class="w">-</tspan>CGGTGTACGG<tspan class="w">C</tspan>CCCGGGTGGCGCCA</text>
<text class="nm" x="286" y="40.5">FT-B1-3_CS</text><text class="nm" x="361" y="40.5" text-anchor="end">361</text><text class="q" x="364.5" y="40.5">GTGCTCGT<tspan class="w">A</tspan>CTCTTCCAGCAGCTCGG<tspan class="w">G</tspan>CGGCAGA<tspan class="r">C</tspan>CGGTGTACGG<tspan class="w">C</tspan>CCCGGGTGGCGCCA</text>
<text class="nm" x="286" y="49.9">FT-B1-1_N61</text><text class="nm" x="361" y="49.9" text-anchor="end">361</text><text class="q" x="364.5" y="49.9">GTGCTCGT<tspan class="w">A</tspan>CTCTTCCAGCAGCTCGG<tspan class="w">G</tspan>CGGCAGA<tspan class="w">-</tspan>CGGTGTACGG<tspan class="w">C</tspan>CCCGGGTGGCGCCA</text>
<text class="nm" x="286" y="59.3">FT-B1-2_N61</text><text class="nm" x="361" y="59.3" text-anchor="end">361</text><text class="q" x="364.5" y="59.3">GTGCTCGT<tspan class="w">A</tspan>CTCTTCCAGCAGCTCGG<tspan class="w">G</tspan>CGGCAGA<tspan class="w">-</tspan>CGGTGTACGG<tspan class="w">C</tspan>CCCGGGTGGCGCCA</text>
<text class="nm" x="286" y="68.7">FT-D1-1_CS</text><text class="nm" x="361" y="68.7" text-anchor="end">361</text><text class="q" x="364.5" y="68.7">GTGCTCGT<tspan class="w">G</tspan>CTCTTCCAGCAGCTCGG<tspan class="w">C</tspan>CGGCAGA<tspan class="w">-</tspan>CGGTGTACGG<tspan class="w">T</tspan>CCCGGGTGGCGCCA</text>
<text class="nm" x="286" y="78.1">FT-D1-1_N61</text><text class="nm" x="361" y="78.1" text-anchor="end">360</text><text class="q" x="364.5" y="78.1">GTGCTCGT<tspan class="w">G</tspan>CTCTTCCAGCAGCTCGG<tspan class="w">C</tspan>CGGCAGA<tspan class="w">-</tspan>CGGTGTACGG<tspan class="w">T</tspan>CCCGGGTGGCGCCA</text>
</g>

<g id="block8" transform="translate(0,748)">
<rect class="bk" x="364.5" y="-4.7" width="191.88" height="84.6"/><rect class="bk" x="561.3" y="-4.7" width="39.36" height="84.6"/><rect class="bk" x="605.58" y="-4.7" width="54.12" height="84.6"/>
<text class="nm" x="286" y="2.9">FT-A1-1_CS</text><text class="nm" x="361" y="2.9" text-anchor="end">417</text><text class="q" x="364.5" y="2.9">GAACTTCAACACCAGGGACTTCGCCGAGCTCTACAACCT<tspan class="w">T</tspan>GGCCCGCC<tspan class="w">C</tspan>GTCGCCGCCGT</text>
<text class="nm" x="286" y="12.3">FT-A1-1_N61</text><text class="nm" x="361" y="12.3" text-anchor="end">417</text><text class="q" x="364.5" y="12.3">GAACTTCAACACCAGGGACTTCGCCGAGCTCTACAACCT<tspan class="w">T</tspan>GGCCCGCC<tspan class="w">C</tspan>GTCGCCGCCGT</text>
<text class="nm" x="286" y="21.7">FT-B1-1_CS</text><text class="nm" x="361" y="21.7" text-anchor="end">420</text><text class="q" x="364.5" y="21.7">GAACTTCAACACCAGGGACTTCGCCGAGCTCTACAACCT<tspan class="w">C</tspan>GGCCCGCC<tspan class="w">T</tspan>GTCGCCGCCGT</text>
<text class="nm" x="286" y="31.1">FT-B1-2_CS</text><text class="nm" x="361" y="31.1" text-anchor="end">420</text><text class="q" x="364.5" y="31.1">GAACTTCAACACCAGGGACTTCGCCGAGCTCTACAACCT<tspan class="w">C</tspan>GGCCCGCC<tspan class="w">T</tspan>GTCGCCGCCGT</text>
<text class="nm" x="286" y="40.5">FT-B1-3_CS</text><text class="nm" x="361" y="40.5" text-anchor="end">421</text><text class="q" x="364.5" y="40.5">GAACTTCAACACCAGGGACTTCGCCGAGCTCTACAACCT<tspan class="w">C</tspan>GGCCCGCC<tspan class="w">T</tspan>GTCGCCGCCGT</text>
<text class="nm" x="286" y="49.9">FT-B1-1_N61</text><text class="nm" x="361" y="49.9" text-anchor="end">420</text><text class="q" x="364.5" y="49.9">GAACTTCAACACCAGGGACTTCGCCGAGCTCTACAACCT<tspan class="w">C</tspan>GGCCCGCC<tspan class="w">T</tspan>GTCGCCGCCGT</text>
<text class="nm" x="286" y="59.3">FT-B1-2_N61</text><text class="nm" x="361" y="59.3" text-anchor="end">420</text><text class="q" x="364.5" y="59.3">GAACTTCAACACCAGGGACTTCGCCGAGCTCTACAACCT<tspan class="w">C</tspan>GGCCCGCC<tspan class="w">T</tspan>GTCGCCGCCGT</text>
<text class="nm" x="286" y="68.7">FT-D1-1_CS</text><text class="nm" x="361" y="68.7" text-anchor="end">420</text><text class="q" x="364.5" y="68.7">GAACTTCAACACCAGGGACTTCGCCGAGCTCTACAACCT<tspan class="w">C</tspan>GGCCCGCC<tspan class="w">T</tspan>GTCGCCGCCGT</text>
<text class="nm" x="286" y="78.1">FT-D1-1_N61</text><text class="nm" x="361" y="78.1" text-anchor="end">419</text><text class="q" x="364.5" y="78.1">GAACTTCAACACCAGGGACTTCGCCGAGCTCTACAACCT<tspan class="w">C</tspan>GGCCCGCC<tspan class="w">T</tspan>GTCGCCGCCGT</text>
</g>

<g id="block9" transform="translate(0,842)">
<rect class="bk" x="364.5" y="-4.7" width="162.36" height="84.6"/><rect class="bk" x="531.78" y="-4.7" width="103.32" height="84.6"/>
<text class="nm" x="286" y="2.9">FT-A1-1_CS</text><text class="nm" x="361" y="2.9" text-anchor="end">477</text><text class="q" x="364.5" y="2.9">CTACTTCAACTGCCAGCGTGAGGCCGGCTCCGG<tspan class="w">T</tspan>GGCAGGAGGATGTACAATTGA</text>
<text class="nm" x="286" y="12.3">FT-A1-1_N61</text><text class="nm" x="361" y="12.3" text-anchor="end">477</text><text class="q" x="364.5" y="12.3">CTACTTCAACTGCCAGCGTGAGGCCGGCTCCGG<tspan class="w">T</tspan>GGCAGGAGGATGTACAATTGA</text>
<text class="nm" x="286" y="21.7">FT-B1-1_CS</text><text class="nm" x="361" y="21.7" text-anchor="end">480</text><text class="q" x="364.5" y="21.7">CTACTTCAACTGCCAGCGTGAGGCCGGCTCCGG<tspan class="w">C</tspan>GGCAGGAGGATGTACAATTGA</text>
<text class="nm" x="286" y="31.1">FT-B1-2_CS</text><text class="nm" x="361" y="31.1" text-anchor="end">480</text><text class="q" x="364.5" y="31.1">CTACTTCAACTGCCAGCGTGAGGCCGGCTCCGG<tspan class="w">C</tspan>GGCAGGAGGATGTACAATTGA</text>
<text class="nm" x="286" y="40.5">FT-B1-3_CS</text><text class="nm" x="361" y="40.5" text-anchor="end">481</text><text class="q" x="364.5" y="40.5">CTACTTCAACTGCCAGCGTGAGGCCGGCTCCGG<tspan class="w">C</tspan>GGCAGGAGGATGTACAATTGA</text>
<text class="nm" x="286" y="49.9">FT-B1-1_N61</text><text class="nm" x="361" y="49.9" text-anchor="end">480</text><text class="q" x="364.5" y="49.9">CTACTTCAACTGCCAGCGTGAGGCCGGCTCCGG<tspan class="w">C</tspan>GGCAGGAGGATGTACAATTGA</text>
<text class="nm" x="286" y="59.3">FT-B1-2_N61</text><text class="nm" x="361" y="59.3" text-anchor="end">480</text><text class="q" x="364.5" y="59.3">CTACTTCAACTGCCAGCGTGAGGCCGGCTCCGG<tspan class="w">C</tspan>GGCAGGAGGATGTACAATTGA</text>
<text class="nm" x="286" y="68.7">FT-D1-1_CS</text><text class="nm" x="361" y="68.7" text-anchor="end">480</text><text class="q" x="364.5" y="68.7">CTACTTCAACTGCCAGCGTGAGGCCGGCTCCGG<tspan class="w">C</tspan>GGCAGGAGGATGTACAATTGA</text>
<text class="nm" x="286" y="78.1">FT-D1-1_N61</text><text class="nm" x="361" y="78.1" text-anchor="end">479</text><text class="q" x="364.5" y="78.1">CTACTTCAACTGCCAGCGTGAGGCCGGCTCCGG<tspan class="w">C</tspan>GGCAGGAGGATGTACAATTGA</text>
</g>
</svg>
